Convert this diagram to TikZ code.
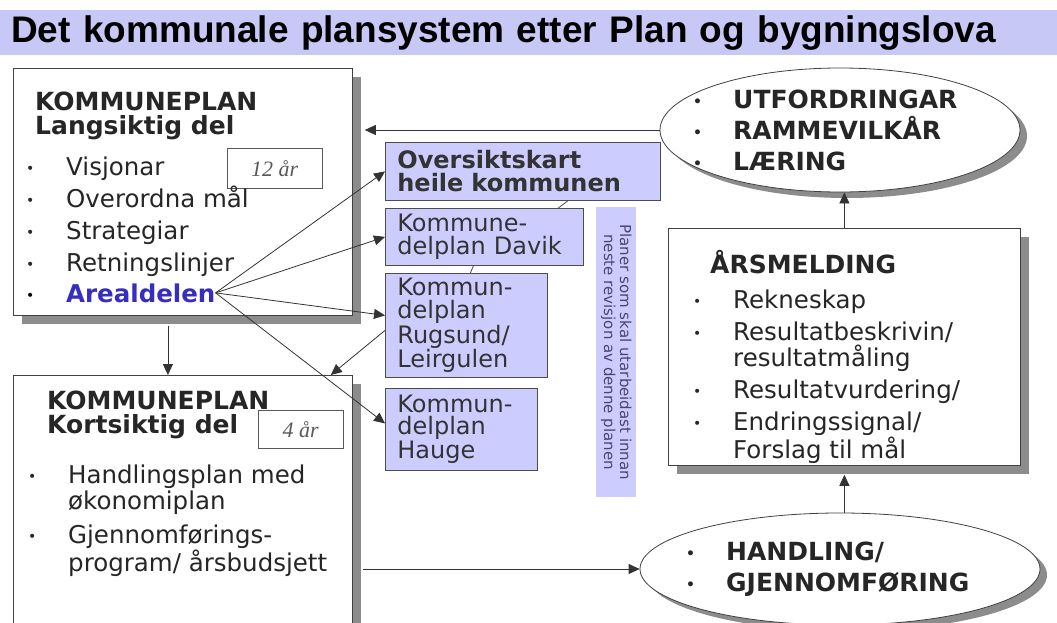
\documentclass[tikz,border=0pt]{standalone}
\usepackage{fontspec}
\setmainfont{DejaVu Sans}
\newfontfamily\titlefont{Liberation Sans}
\newfontfamily\aarfont{Liberation Serif}
\usetikzlibrary{arrows.meta,shadows,shapes.geometric,positioning}
\definecolor{lilla}{RGB}{204,204,255}
\definecolor{tittel}{RGB}{200,200,246}
\definecolor{arealblaa}{RGB}{55,45,190}
\definecolor{notat}{RGB}{70,70,110}
\newcommand{\pkt}{\makebox[40pt][l]{\raisebox{2pt}{\fontsize{14}{14}\selectfont\textbullet}}}
\newcommand{\inn}{\hspace*{40pt}}

\begin{document}
\begin{tikzpicture}[x=1pt,y=-1pt,
    boks/.style={draw=black!75,fill=white,anchor=north west,inner sep=0pt,line width=0.8pt,
        drop shadow={shadow xshift=9pt,shadow yshift=-9pt,fill=black!45,opacity=1}},
    boble/.style={ellipse,draw=black!75,fill=white,inner sep=0pt,line width=0.8pt,
        drop shadow={shadow xshift=7pt,shadow yshift=-6pt,fill=black!45,opacity=1}},
    plan/.style={draw=black!70,fill=lilla,anchor=north west,inner xsep=12pt,align=left,
        text=black!80,line width=0.8pt,font=\fontsize{24}{23}\selectfont},
    tekst/.style={anchor=north west,inner sep=0pt,align=left,text=black!85},
    aar/.style={draw=black!65,anchor=north west,text=black!65,
        font=\aarfont\itshape\fontsize{22}{22}\selectfont},
    pil/.style={draw=black!80,line width=0.8pt,-{Triangle[length=11pt,width=10pt]}},
    strek/.style={draw=black!70,line width=0.8pt}]

\useasboundingbox (0,0) rectangle (1057,623);

% tittel
\node[fill=tittel,anchor=north west,minimum height=45pt,text width=1035pt,inner xsep=11pt,
    align=left,font=\titlefont\bfseries\fontsize{37}{37}\selectfont] (tittel) at (0,10)
    {Det kommunale plansystem etter Plan og bygningslova};

% kommuneplan, langsiktig del
\node[boks,minimum width=339pt,minimum height=247pt] (lang) at (13,68) {};
\node[tekst,font=\bfseries\fontsize{25}{24}\selectfont] (langtit) at (35,92) {KOMMUNEPLAN\\Langsiktig del};
\node[aar,minimum width=95pt,minimum height=40pt] (aar12) at (227,148) {12 år};
\node[tekst,font=\fontsize{24.5}{32}\selectfont] (langliste) at (26,157)
    {\pkt Visjonar\\ \pkt Overordna mål\\ \pkt Strategiar\\ \pkt Retningslinjer};
\node[anchor=base west,inner xsep=0pt,inner ysep=4pt,font=\fontsize{24.5}{32}\selectfont] (areal) at (26,302)
    {\pkt\textcolor{arealblaa}{\bfseries Arealdelen}\hspace{10pt}};

% kommuneplan, kortsiktig del
\node[boks,minimum width=339pt,minimum height=265pt] (kort) at (13,375) {};
\node[tekst,font=\bfseries\fontsize{25}{24}\selectfont] (korttit) at (47,391) {KOMMUNEPLAN\\Kortsiktig del};
\node[aar,minimum width=85pt,minimum height=38pt] (aar4) at (258,410) {4 år};
\node[tekst,font=\fontsize{24.5}{26}\selectfont] (kortliste) at (28,465)
    {\pkt Handlingsplan med\\ \inn økonomiplan\\[8pt] \pkt Gjennomførings-\\ \inn program/ årsbudsjett};

% kommunedelplanar
\node[plan,minimum width=275pt,minimum height=58pt,text width=251pt,font=\bfseries\fontsize{24}{23}\selectfont] (over) at (385,142)
    {Oversiktskart\\heile kommunen};
\node[plan,minimum width=198pt,minimum height=57pt,text width=174pt] (davik) at (385,208)
    {Kommune-\\delplan Davik};
\node[plan,minimum width=162pt,minimum height=104pt,text width=138pt] (rug) at (385,273)
    {Kommun-\\delplan\\Rugsund/\\Leirgulen};
\node[plan,minimum width=152pt,minimum height=82pt,text width=128pt,font=\fontsize{24}{22}\selectfont] (hauge) at (385,388)
    {Kommun-\\delplan\\Hauge};
\node[fill=lilla,anchor=north west,minimum width=40pt,minimum height=290pt] (merk) at (596,207) {};
\node[rotate=-90,align=center,text=notat,font=\fontsize{15}{16}\selectfont] (merktekst) at (merk.center)
    {Planer som skal utarbeidast innan\\neste revisjon av denne planen};

% utfordringar
\node[boble,minimum width=360pt,minimum height=124pt] (utf) at (840,130) {};
\node[tekst,font=\bfseries\fontsize{25}{31}\selectfont] (utftekst) at (693,90)
    {\pkt UTFORDRINGAR\\ \pkt RAMMEVILKÅR\\ \pkt LÆRING};

% aarsmelding
\node[boks,minimum width=352pt,minimum height=237pt] (ars) at (668,228) {};
\node[tekst,font=\bfseries\fontsize{25}{24}\selectfont] (arstit) at (710,250) {ÅRSMELDING};
\node[tekst,font=\fontsize{24.5}{26}\selectfont] (arsliste) at (693,290)
    {\pkt Rekneskap\\[6pt] \pkt Resultatbeskrivin/\\ \inn resultatmåling\\[6pt]
     \pkt Resultatvurdering/\\[6pt] \pkt Endringssignal/\\ \inn Forslag til mål};

% handling
\node[boble,minimum width=400pt,minimum height=112pt] (hand) at (840,569) {};
\node[tekst,font=\bfseries\fontsize{25}{31}\selectfont] (handtekst) at (686,542)
    {\pkt HANDLING/\\ \pkt GJENNOMFØRING};

% piler
\draw[pil] (utf.west) -- ([xshift=12pt]utf.west -| lang.east);
\draw[pil] ([xshift=-15pt,yshift=-10pt]lang.south) -- ([xshift=-15pt]kort.north);
\draw[pil] (areal.east) -- (over.west);
\draw[pil] (areal.east) -- (davik.west);
\draw[pil] (areal.east) -- ([yshift=10pt]rug.west);
\draw[pil] (areal.east) -- ([yshift=6pt]hauge.west);
\draw[pil] ([yshift=-5pt]rug.west) -- ([xshift=-22pt]kort.north east);
\draw[strek] ([xshift=45pt]over.south) -- ([xshift=74pt]davik.north);
\draw[strek] ([xshift=-11pt]davik.south) -- ([xshift=4pt]rug.north);
\draw[pil] (ars.north) -- (ars.north |- utf.south);
\draw[pil] (ars.south |- hand.north) -- ([yshift=-9pt]ars.south);
\draw[pil] ([xshift=10pt]hand.west -| kort.east) -- (hand.west);
\end{tikzpicture}
\end{document}
